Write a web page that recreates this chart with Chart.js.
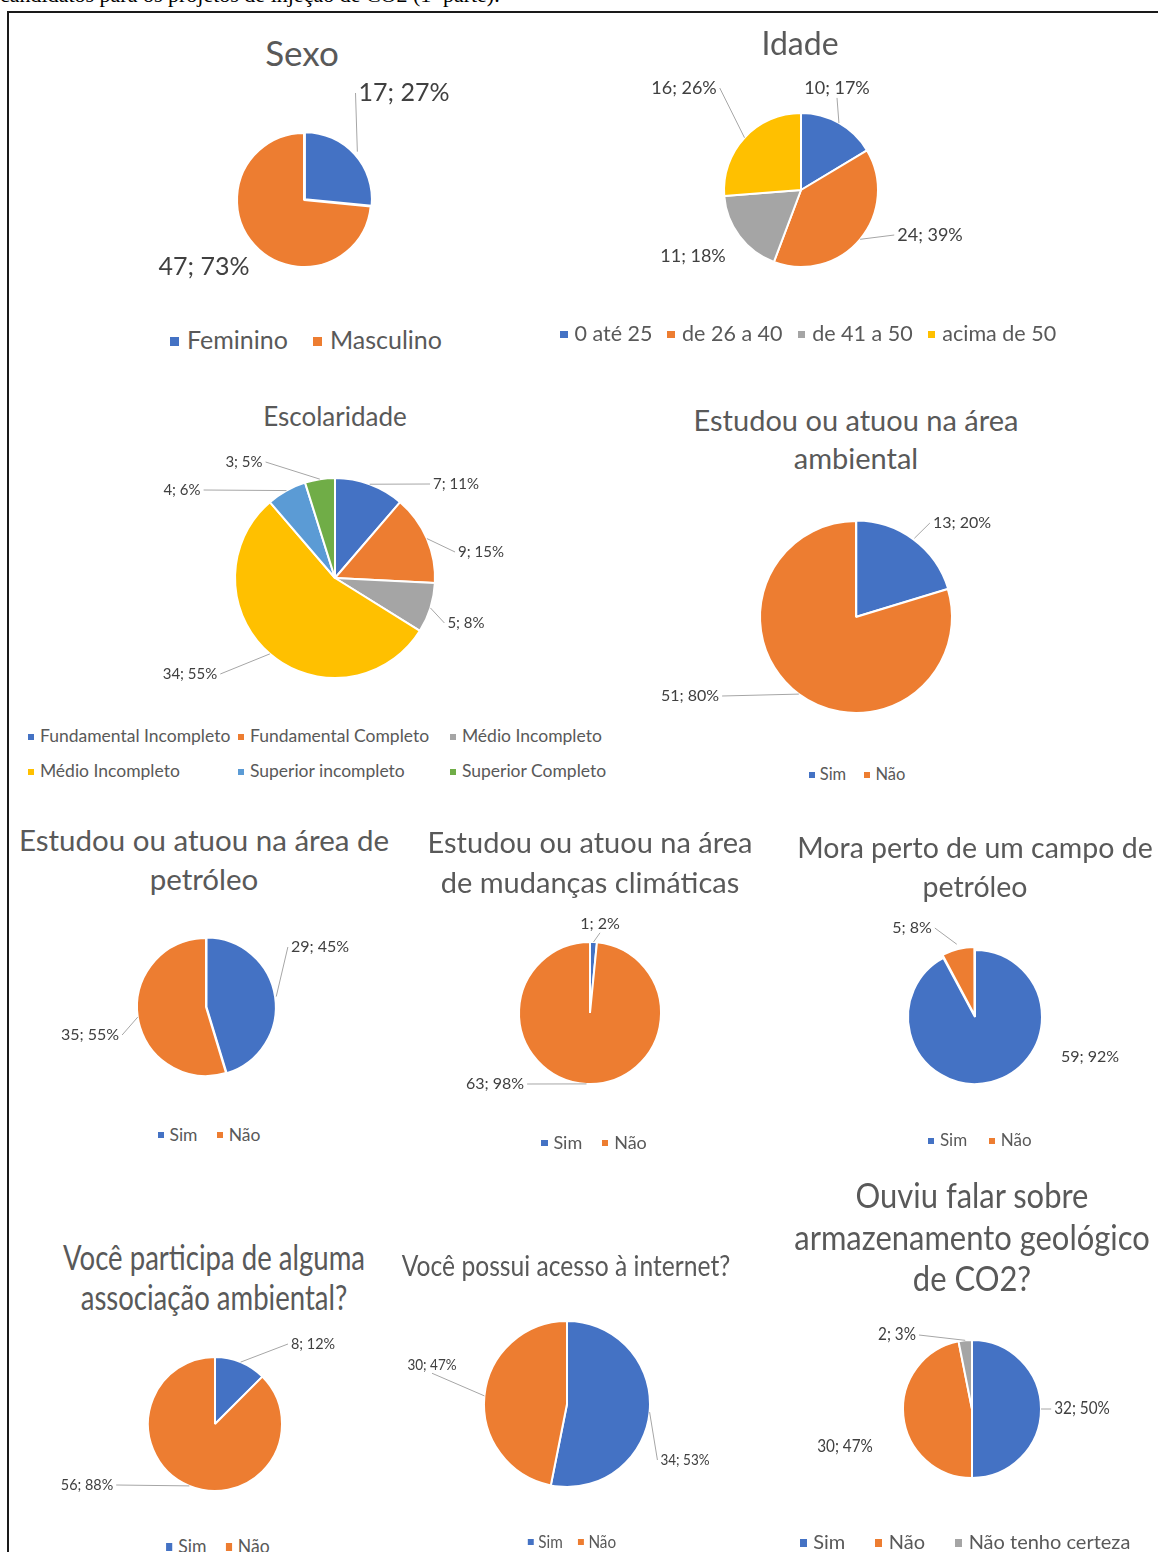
<!DOCTYPE html>
<html lang="pt">
<head>
<meta charset="utf-8">
<script src="https://cdn.jsdelivr.net/npm/chart.js@4.4.1/dist/chart.umd.min.js"></script>
<style>
  body { margin: 0; background: #fff; width: 1158px; height: 1552px; overflow: hidden; position: relative; font-family: Lato, "Open Sans", sans-serif; }
  .caption { position: absolute; left: 0; top: -16px; font: 22px/22px "Liberation Serif", "Times New Roman", serif; color: #000; white-space: nowrap; }
  .frame { position: absolute; left: 7px; top: 11px; width: 1300px; height: 1700px; border: 2px solid #1a1a1a; box-sizing: border-box; }
  .title { position: absolute; width: 600px; text-align: center; color: #595959; white-space: nowrap; }
  .legend { position: absolute; width: 600px; text-align: center; color: #595959; white-space: nowrap; }
  .legend .item { display: inline-block; }
  .legend .sw { display: inline-block; width: 0.36em; height: 0.36em; margin-right: 0.32em; vertical-align: 0.12em; }
  .cell { position: absolute; }
</style>
</head>
<body>
<div class="caption">candidatos para os projetos de injeção de CO2 (1ª parte).</div>
<div class="frame"></div>
<script>
// survey answers, one set of arrays per question
const sexoLabels = ['Feminino', 'Masculino'];
const sexoValues = [17, 47];
const sexoPct = [27, 73];

const idadeLabels = ['0 até 25', 'de 26 a 40', 'de 41 a 50', 'acima de 50'];
const idadeValues = [10, 24, 11, 16];
const idadePct = [17, 39, 18, 26];

const escolaLabels = ['Fundamental Incompleto', 'Fundamental Completo', 'Médio Incompleto',
  'Médio Incompleto', 'Superior incompleto', 'Superior Completo'];
const escolaValues = [7, 9, 5, 34, 4, 3];
const escolaPct = [11, 15, 8, 55, 6, 5];

const simNao = ['Sim', 'Não'];

const ambientalValues = [13, 51];
const ambientalPct = [20, 80];

const petroleoValues = [29, 35];
const petroleoPct = [45, 55];

const climaValues = [1, 63];
const climaPct = [2, 98];

const moraValues = [59, 5];
const moraPct = [92, 8];

const associacaoValues = [8, 56];
const associacaoPct = [12, 88];

const internetValues = [34, 30];
const internetPct = [53, 47];

const co2Labels = ['Sim', 'Não', 'Não tenho certeza'];
const co2Values = [32, 30, 2];
const co2Pct = [50, 47, 3];

// office palette
const BLUE = '#4472C4', ORANGE = '#ED7D31', GREY = '#A5A5A5', GOLD = '#FFC000', SKY = '#5B9BD5', GREEN = '#70AD47';

// label text "n; p%" with a leader line back to the slice
const sliceTags = {
  id: 'sliceTags',
  afterDatasetsDraw(chart, args, opts) {
    const ctx = chart.ctx;
    const meta = chart.getDatasetMeta(0);
    const ds = chart.data.datasets[0];
    ctx.save();
    ctx.font = opts.size + 'px Lato';
    ctx.textAlign = 'center';
    ctx.textBaseline = 'middle';
    meta.data.forEach((arc, i) => {
      const spot = opts.at[i];
      const text = ds.data[i] + '; ' + opts.pct[i] + '%';
      const lx = arc.x + spot[0], ly = arc.y + spot[1];
      const w = ctx.measureText(text).width * opts.sx;
      const side = spot[2];
      if (side) {
        const mid = (arc.startAngle + arc.endAngle) / 2;
        const rr = arc.outerRadius + (arc.options.offset || 0);
        const ex = arc.x + Math.cos(mid) * rr, ey = arc.y + Math.sin(mid) * rr;
        let ax = lx, ay = ly;
        if (side === 'left') ax = lx - w / 2 - 3;
        if (side === 'right') ax = lx + w / 2 + 3;
        if (side === 'bottom') ay = ly + opts.size * 0.55;
        if (side === 'top') ay = ly - opts.size * 0.55;
        ctx.strokeStyle = '#A6A6A6';
        ctx.lineWidth = 1;
        ctx.beginPath();
        ctx.moveTo(ax, ay);
        ctx.lineTo(ex, ey);
        ctx.stroke();
      }
      ctx.save();
      ctx.translate(lx, ly);
      ctx.scale(opts.sx, 1);
      ctx.fillStyle = '#404040';
      ctx.fillText(text, 0, 0);
      ctx.restore();
    });
    ctx.restore();
  }
};

const panels = [
  { labels: sexoLabels, values: sexoValues, pct: sexoPct, colors: [BLUE, ORANGE],
    cx: 304, cy: 200, r: 67, offset: [5, 0],
    tag: { size: 25, sx: 1, at: [[100, -107, 'left'], [-100, 67, null]] },
    title: { lines: ['Sexo'], x: 302, y: 52, size: 35, lh: 40, sx: 1 },
    legend: { x: 306, y: 339, size: 25, sx: 1, gap: 1.0 } },
  { labels: idadeLabels, values: idadeValues, pct: idadePct, colors: [BLUE, ORANGE, GREY, GOLD],
    cx: 801, cy: 190, r: 77, offset: [0, 0, 0, 0],
    tag: { size: 18, sx: 1, at: [[36, -102, 'bottom'], [129, 45, 'left'], [-108, 66, null], [-117, -102, 'right']] },
    title: { lines: ['Idade'], x: 800, y: 43, size: 32, lh: 38, sx: 1 },
    legend: { x: 808, y: 333, size: 21.5, sx: 1, gap: 0.7 } },
  { labels: escolaLabels, values: escolaValues, pct: escolaPct, colors: [BLUE, ORANGE, GREY, GOLD, SKY, GREEN],
    cx: 335, cy: 578, r: 100, offset: [0, 0, 0, 0, 0, 0],
    tag: { size: 15, sx: 1, at: [[121, -94, 'left'], [146, -26, 'left'], [131, 45, 'left'],
      [-145, 96, 'right'], [-153, -88, 'right'], [-91, -116, 'right']] },
    title: { lines: ['Escolaridade'], x: 335, y: 416, size: 26, lh: 32, sx: 1 },
    legend: { grid: true, cols: [28, 238, 450], rows: [736, 771], size: 17.5 } },
  { labels: simNao, values: ambientalValues, pct: ambientalPct, colors: [BLUE, ORANGE],
    cx: 856, cy: 617, r: 96, offset: [2, 0],
    tag: { size: 16, sx: 1, at: [[106, -94, 'left'], [-166, 79, 'right']] },
    title: { lines: ['Estudou ou atuou na área', 'ambiental'], x: 856, y: 420, size: 29, lh: 38, sx: 1 },
    legend: { x: 857, y: 774, size: 16.5, sx: 1, gap: 1.1 } },
  { labels: simNao, values: petroleoValues, pct: petroleoPct, colors: [BLUE, ORANGE],
    cx: 206, cy: 1007, r: 69, offset: [2, 0],
    tag: { size: 16, sx: 1, at: [[114, -60, 'left'], [-116, 28, 'right']] },
    title: { lines: ['Estudou ou atuou na área de', 'petróleo'], x: 204, y: 839, size: 29.5, lh: 39, sx: 1 },
    legend: { x: 209, y: 1134, size: 17.5, sx: 1, gap: 1.1 } },
  { labels: simNao, values: climaValues, pct: climaPct, colors: [BLUE, ORANGE],
    cx: 590, cy: 1013, r: 71, offset: [0, 0],
    tag: { size: 16, sx: 1, at: [[10, -89, 'bottom'], [-95, 71, 'right']] },
    title: { lines: ['Estudou ou atuou na área', 'de mudanças climáticas'], x: 590, y: 842, size: 29, lh: 40, sx: 1 },
    legend: { x: 594, y: 1142, size: 18, sx: 1, gap: 1.1 } },
  { labels: simNao, values: moraValues, pct: moraPct, colors: [BLUE, ORANGE],
    cx: 975, cy: 1017, r: 67, offset: [0, 8],
    tag: { size: 16, sx: 1, at: [[115, 40, null], [-63, -89, 'right']] },
    title: { lines: ['Mora perto de um campo de', 'petróleo'], x: 975, y: 847, size: 28.5, lh: 39, sx: 1 },
    legend: { x: 980, y: 1140, size: 17, sx: 1, gap: 1.3 } },
  { labels: simNao, values: associacaoValues, pct: associacaoPct, colors: [BLUE, ORANGE],
    cx: 215, cy: 1424, r: 67, offset: [0, 0],
    tag: { size: 16, sx: 0.9, at: [[98, -80, 'left'], [-128, 61, 'right']] },
    title: { lines: ['Você participa de alguma', 'associação ambiental?'], x: 214, y: 1257, size: 34, lh: 40, sx: 0.81 },
    legend: { x: 218, y: 1545, size: 20, sx: 0.88, gap: 1.1 } },
  { labels: simNao, values: internetValues, pct: internetPct, colors: [BLUE, ORANGE],
    cx: 567, cy: 1404, r: 83, offset: [0, 0],
    tag: { size: 15, sx: 0.9, at: [[118, 56, 'left'], [-135, -39, 'bottom']] },
    title: { lines: ['Você possui acesso à internet?'], x: 566, y: 1265, size: 28, lh: 34, sx: 0.88 },
    legend: { x: 572, y: 1541, size: 18, sx: 0.85, gap: 1.0 } },
  { labels: co2Labels, values: co2Values, pct: co2Pct, colors: [BLUE, ORANGE, GREY],
    cx: 972, cy: 1409, r: 69, offset: [0, 0, 0],
    tag: { size: 17, sx: 0.9, at: [[110, 0, 'left'], [-127, 38, null], [-75, -74, 'right']] },
    title: { lines: ['Ouviu falar sobre', 'armazenamento geológico', 'de CO2?'], x: 972, y: 1195, size: 34, lh: 41.5, sx: 0.91 },
    legend: { x: 965, y: 1541, size: 20, sx: 1, gap: 1.5 } }
];

function addTitle(t) {
  const el = document.createElement('div');
  el.className = 'title';
  el.style.left = (t.x - 300) + 'px';
  el.style.top = (t.y - t.lh / 2) + 'px';
  el.style.fontSize = t.size + 'px';
  el.style.lineHeight = t.lh + 'px';
  el.style.transform = 'scaleX(' + t.sx + ')';
  el.innerHTML = t.lines.join('<br>');
  document.body.appendChild(el);
}

function legendItem(label, color) {
  const item = document.createElement('span');
  item.className = 'item';
  const sw = document.createElement('span');
  sw.className = 'sw';
  sw.style.background = color;
  item.appendChild(sw);
  item.appendChild(document.createTextNode(label));
  return item;
}

function addLegend(p) {
  const lg = p.legend;
  if (lg.grid) {
    p.labels.forEach((label, i) => {
      const el = document.createElement('div');
      el.className = 'legend';
      el.style.textAlign = 'left';
      el.style.fontSize = lg.size + 'px';
      el.style.lineHeight = '20px';
      el.style.left = lg.cols[i % 3] + 'px';
      el.style.top = (lg.rows[Math.floor(i / 3)] - 10) + 'px';
      el.appendChild(legendItem(label, p.colors[i]));
      document.body.appendChild(el);
    });
    return;
  }
  const el = document.createElement('div');
  el.className = 'legend';
  const lh = Math.round(lg.size * 1.3);
  el.style.left = (lg.x - 300) + 'px';
  el.style.top = (lg.y - lh / 2) + 'px';
  el.style.fontSize = lg.size + 'px';
  el.style.lineHeight = lh + 'px';
  el.style.transform = 'scaleX(' + lg.sx + ')';
  p.labels.forEach((label, i) => {
    const item = legendItem(label, p.colors[i]);
    item.style.margin = '0 ' + (lg.gap / 2) + 'em';
    el.appendChild(item);
  });
  document.body.appendChild(el);
}

function addPie(p) {
  const hw = 215, hh = 150;
  const cell = document.createElement('div');
  cell.className = 'cell';
  cell.style.left = (p.cx - hw) + 'px';
  cell.style.top = (p.cy - hh) + 'px';
  cell.style.width = (hw * 2) + 'px';
  cell.style.height = (hh * 2) + 'px';
  const canvas = document.createElement('canvas');
  cell.appendChild(canvas);
  document.body.appendChild(cell);

  new Chart(canvas.getContext('2d'), {
    type: 'pie',
    data: {
      labels: p.labels,
      datasets: [{
        data: p.values,
        backgroundColor: p.colors,
        borderColor: '#ffffff',
        borderWidth: 2,
        offset: p.offset,
        radius: p.r
      }]
    },
    options: {
      responsive: true,
      maintainAspectRatio: false,
      animation: false,
      events: [],
      layout: { padding: 0 },
      plugins: {
        legend: { display: false },
        title: { display: false },
        tooltip: { enabled: false },
        sliceTags: { size: p.tag.size, sx: p.tag.sx, at: p.tag.at, pct: p.pct }
      }
    },
    plugins: [sliceTags]
  });
}

function build() {
  panels.forEach(p => {
    addTitle(p.title);
    addLegend(p);
    addPie(p);
  });
}

document.fonts.load('16px Lato').then(build, build);
</script>
</body>
</html>
